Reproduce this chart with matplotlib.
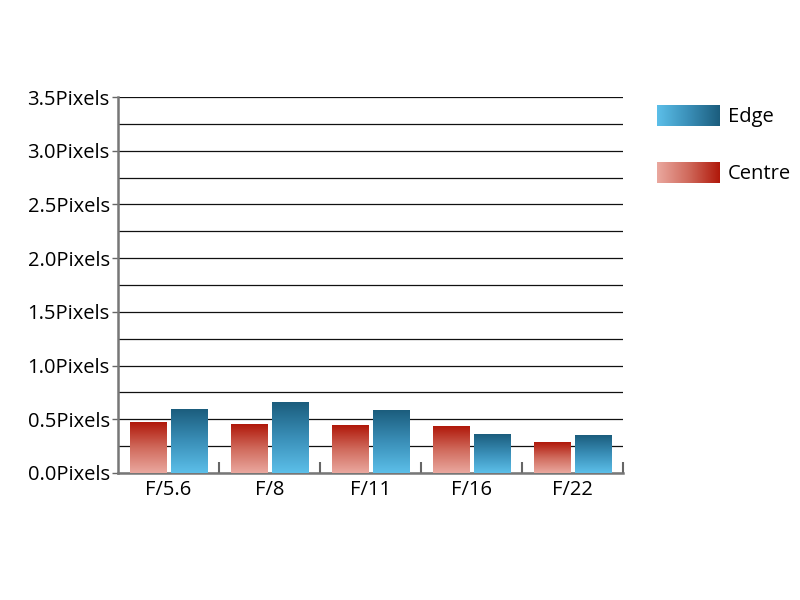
import numpy as np
import matplotlib
matplotlib.use("Agg")
import matplotlib.pyplot as plt
from matplotlib.colors import LinearSegmentedColormap

categories = ["F/5.6", "F/8", "F/11", "F/16", "F/22"]
centre = [0.47, 0.45, 0.44, 0.43, 0.28]
edge = [0.59, 0.66, 0.58, 0.36, 0.35]
yticks = [0.0, 0.5, 1.0, 1.5, 2.0, 2.5, 3.0, 3.5]
ytick_labels = ["%.1fPixels" % v for v in yticks]

plt.rcParams['font.family'] = ['Open Sans', 'DejaVu Sans']
FS = 14.5

red_cmap = LinearSegmentedColormap.from_list("red", ["#eaa89f", "#d06a5c", "#b0180a"])
blue_cmap = LinearSegmentedColormap.from_list("blue", ["#5cbfe9", "#3a8fb8", "#1b5d7d"])

fig = plt.figure(figsize=(8, 6), dpi=100)
ax = fig.add_axes([0.1475, 0.2117, 0.6313, 0.6266])

x = np.arange(len(categories))
w = 0.36
gap = 0.04
grad = np.linspace(0, 1, 256).reshape(-1, 1)

bars_c = ax.bar(x - w / 2 - gap / 2, centre, w, color="none", zorder=3)
bars_e = ax.bar(x + w / 2 + gap / 2, edge, w, color="none", zorder=3)
for bars, cmap in ((bars_c, red_cmap), (bars_e, blue_cmap)):
    for b in bars:
        x0, y0 = b.get_x(), b.get_y()
        bw, bh = b.get_width(), b.get_height()
        ax.imshow(grad, cmap=cmap, origin="lower", aspect="auto",
                  extent=[x0, x0 + bw, y0, y0 + bh], zorder=3)

ax.set_xlim(-0.5, len(categories) - 0.5)
ax.set_ylim(0, 3.5)
ax.set_yticks(yticks)
ax.set_yticklabels(ytick_labels, fontsize=FS)
ax.set_yticks(np.arange(0.25, 3.5, 0.5), minor=True)
ax.set_xticks(x)
ax.set_xticklabels(categories, fontsize=FS)
ax.set_xticks(np.arange(0.5, len(categories), 1.0), minor=True)
ax.tick_params(axis="x", which="major", length=0, pad=5)
ax.tick_params(axis="x", which="minor", direction="in", length=8, color="#666666", width=1.5)
ax.tick_params(axis="y", which="major", direction="out", length=4, color="#666666", width=1, pad=2)
ax.tick_params(axis="y", which="minor", length=0)
ax.grid(axis="y", which="both", color="#111111", linewidth=0.9, zorder=0)
ax.set_axisbelow(True)
for s in ("top", "right"):
    ax.spines[s].set_visible(False)
for s in ("left", "bottom"):
    ax.spines[s].set_color("#777777")
    ax.spines[s].set_linewidth(1.8)
ax.set_xlim(-0.5, len(categories) - 0.5)

# legend with horizontal gradients
hgrad = np.linspace(0, 1, 256).reshape(1, -1)
for label, cmap, ytop in (("Edge", blue_cmap, 105), ("Centre", red_cmap, 162)):
    lax = fig.add_axes([657 / 800, 1 - (ytop + 21) / 600, 63 / 800, 21 / 600])
    lax.imshow(hgrad, cmap=cmap, aspect="auto")
    lax.axis("off")
    fig.text(728 / 800, 1 - (ytop + 12) / 600, label, fontsize=FS, va="center", ha="left")

fig.savefig("out.png", dpi=100)
